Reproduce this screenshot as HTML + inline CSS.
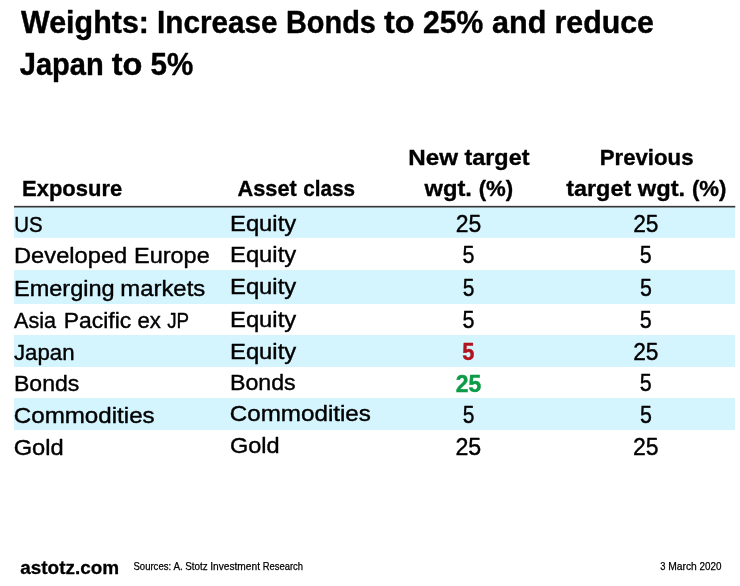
<!DOCTYPE html>
<html lang="en">
<head>
<meta charset="utf-8">
<title>Weights: Increase Bonds to 25% and reduce Japan to 5%</title>
<style>
html,body{margin:0;padding:0;background:#fff}
svg{display:block}
</style>
</head>
<body>
<svg width="740" height="586" viewBox="0 0 740 586" font-family="'Liberation Sans', sans-serif">
<rect width="740" height="586" fill="#fff"/>
<rect x="14" y="207" width="721" height="30.8" fill="#D4F4FE"/>
<rect x="14" y="270" width="721" height="34.0" fill="#D4F4FE"/>
<rect x="14" y="335" width="721" height="32.0" fill="#D4F4FE"/>
<rect x="14" y="398" width="721" height="32.0" fill="#D4F4FE"/>
<rect x="14" y="205.85" width="721.3" height="1.65" fill="#363636"/>
<text y="32.70" font-size="30.71" font-weight="bold" stroke="#000" stroke-width="0.4" stroke-linejoin="round"><tspan x="21.00" textLength="127.99" lengthAdjust="spacingAndGlyphs">Weights:</tspan> <tspan x="157.01" textLength="120.52" lengthAdjust="spacingAndGlyphs">Increase</tspan> <tspan x="286.00" textLength="89.87" lengthAdjust="spacingAndGlyphs">Bonds</tspan> <tspan x="384.00" textLength="30.65" lengthAdjust="spacingAndGlyphs">to</tspan> <tspan x="423.01" textLength="60.26" lengthAdjust="spacingAndGlyphs">25%</tspan> <tspan x="491.99" textLength="54.35" lengthAdjust="spacingAndGlyphs">and</tspan> <tspan x="554.50" textLength="99.40" lengthAdjust="spacingAndGlyphs">reduce</tspan></text>
<text y="74.70" font-size="30.71" font-weight="bold" stroke="#000" stroke-width="0.4" stroke-linejoin="round"><tspan x="19.75" textLength="83.95" lengthAdjust="spacingAndGlyphs">Japan</tspan> <tspan x="111.75" textLength="30.65" lengthAdjust="spacingAndGlyphs">to</tspan> <tspan x="150.50" textLength="42.75" lengthAdjust="spacingAndGlyphs">5%</tspan></text>
<text y="195.75" font-size="22.70" font-weight="bold" stroke="#000" stroke-width="0.35" stroke-linejoin="round"><tspan x="22.01" textLength="100.18" lengthAdjust="spacingAndGlyphs">Exposure</tspan></text>
<text y="195.75" font-size="22.70" font-weight="bold" stroke="#000" stroke-width="0.35" stroke-linejoin="round"><tspan x="237.51" textLength="59.25" lengthAdjust="spacingAndGlyphs">Asset</tspan> <tspan x="303.25" textLength="51.76" lengthAdjust="spacingAndGlyphs">class</tspan></text>
<text y="164.90" font-size="22.70" font-weight="bold" stroke="#000" stroke-width="0.35" stroke-linejoin="round"><tspan x="408.26" textLength="49.70" lengthAdjust="spacingAndGlyphs">New</tspan> <tspan x="464.50" textLength="64.94" lengthAdjust="spacingAndGlyphs">target</tspan></text>
<text y="195.50" font-size="22.70" font-weight="bold" stroke="#000" stroke-width="0.35" stroke-linejoin="round"><tspan x="424.50" textLength="47.38" lengthAdjust="spacingAndGlyphs">wgt.</tspan> <tspan x="478.72" textLength="34.54" lengthAdjust="spacingAndGlyphs">(%)</tspan></text>
<text y="164.90" font-size="22.70" font-weight="bold" stroke="#000" stroke-width="0.35" stroke-linejoin="round"><tspan x="599.76" textLength="93.74" lengthAdjust="spacingAndGlyphs">Previous</tspan></text>
<text y="195.50" font-size="22.70" font-weight="bold" stroke="#000" stroke-width="0.35" stroke-linejoin="round"><tspan x="566.25" textLength="64.94" lengthAdjust="spacingAndGlyphs">target</tspan> <tspan x="637.75" textLength="47.38" lengthAdjust="spacingAndGlyphs">wgt.</tspan> <tspan x="691.97" textLength="34.54" lengthAdjust="spacingAndGlyphs">(%)</tspan></text>
<text y="231.50" font-size="22.93" stroke="#000" stroke-width="0.4" stroke-linejoin="round"><tspan x="14.19" textLength="28.39" lengthAdjust="spacingAndGlyphs">US</tspan></text>
<text y="230.50" font-size="22.93" stroke="#000" stroke-width="0.4" stroke-linejoin="round"><tspan x="230.01" textLength="66.18" lengthAdjust="spacingAndGlyphs">Equity</tspan></text>
<text y="231.50" font-size="23.19" stroke="#000" stroke-width="0.4" stroke-linejoin="round"><tspan x="455.71" textLength="25.53" lengthAdjust="spacingAndGlyphs">25</tspan></text>
<text y="231.50" font-size="23.19" stroke="#000" stroke-width="0.4" stroke-linejoin="round"><tspan x="633.21" textLength="25.27" lengthAdjust="spacingAndGlyphs">25</tspan></text>
<text y="262.90" font-size="22.93" stroke="#000" stroke-width="0.4" stroke-linejoin="round"><tspan x="14.00" textLength="113.30" lengthAdjust="spacingAndGlyphs">Developed</tspan> <tspan x="133.99" textLength="75.71" lengthAdjust="spacingAndGlyphs">Europe</tspan></text>
<text y="261.70" font-size="22.93" stroke="#000" stroke-width="0.4" stroke-linejoin="round"><tspan x="230.01" textLength="66.18" lengthAdjust="spacingAndGlyphs">Equity</tspan></text>
<text y="262.90" font-size="23.19" stroke="#000" stroke-width="0.4" stroke-linejoin="round"><tspan x="462.42" textLength="11.95" lengthAdjust="spacingAndGlyphs">5</tspan></text>
<text y="262.90" font-size="23.19" stroke="#000" stroke-width="0.4" stroke-linejoin="round"><tspan x="639.67" textLength="11.95" lengthAdjust="spacingAndGlyphs">5</tspan></text>
<text y="295.80" font-size="22.93" stroke="#000" stroke-width="0.4" stroke-linejoin="round"><tspan x="14.00" textLength="100.68" lengthAdjust="spacingAndGlyphs">Emerging</tspan> <tspan x="120.26" textLength="84.98" lengthAdjust="spacingAndGlyphs">markets</tspan></text>
<text y="294.25" font-size="22.93" stroke="#000" stroke-width="0.4" stroke-linejoin="round"><tspan x="230.01" textLength="66.18" lengthAdjust="spacingAndGlyphs">Equity</tspan></text>
<text y="295.80" font-size="23.19" stroke="#000" stroke-width="0.4" stroke-linejoin="round"><tspan x="462.71" textLength="11.65" lengthAdjust="spacingAndGlyphs">5</tspan></text>
<text y="295.80" font-size="23.19" stroke="#000" stroke-width="0.4" stroke-linejoin="round"><tspan x="639.96" textLength="11.90" lengthAdjust="spacingAndGlyphs">5</tspan></text>
<text y="328.30" font-size="22.93" stroke="#000" stroke-width="0.4" stroke-linejoin="round"><tspan x="14.00" textLength="42.03" lengthAdjust="spacingAndGlyphs">Asia</tspan> <tspan x="63.74" textLength="67.47" lengthAdjust="spacingAndGlyphs">Pacific</tspan> <tspan x="137.49" textLength="23.44" lengthAdjust="spacingAndGlyphs">ex</tspan> <tspan x="167.24" textLength="21.90" lengthAdjust="spacingAndGlyphs">JP</tspan></text>
<text y="327.00" font-size="22.93" stroke="#000" stroke-width="0.4" stroke-linejoin="round"><tspan x="230.01" textLength="66.18" lengthAdjust="spacingAndGlyphs">Equity</tspan></text>
<text y="328.30" font-size="23.19" stroke="#000" stroke-width="0.4" stroke-linejoin="round"><tspan x="462.42" textLength="11.95" lengthAdjust="spacingAndGlyphs">5</tspan></text>
<text y="328.30" font-size="23.19" stroke="#000" stroke-width="0.4" stroke-linejoin="round"><tspan x="639.67" textLength="11.95" lengthAdjust="spacingAndGlyphs">5</tspan></text>
<text y="359.60" font-size="22.93" stroke="#000" stroke-width="0.4" stroke-linejoin="round"><tspan x="14.00" textLength="60.51" lengthAdjust="spacingAndGlyphs">Japan</tspan></text>
<text y="358.75" font-size="22.93" stroke="#000" stroke-width="0.4" stroke-linejoin="round"><tspan x="230.01" textLength="66.18" lengthAdjust="spacingAndGlyphs">Equity</tspan></text>
<text y="360.30" font-size="23.19" font-weight="bold" fill="#B2121F" stroke="#B2121F" stroke-width="0.4" stroke-linejoin="round"><tspan x="462.23" textLength="12.13" lengthAdjust="spacingAndGlyphs">5</tspan></text>
<text y="359.60" font-size="23.19" stroke="#000" stroke-width="0.4" stroke-linejoin="round"><tspan x="633.21" textLength="25.27" lengthAdjust="spacingAndGlyphs">25</tspan></text>
<text y="391.10" font-size="22.93" stroke="#000" stroke-width="0.4" stroke-linejoin="round"><tspan x="13.99" textLength="65.41" lengthAdjust="spacingAndGlyphs">Bonds</tspan></text>
<text y="390.00" font-size="22.93" stroke="#000" stroke-width="0.4" stroke-linejoin="round"><tspan x="229.99" textLength="65.67" lengthAdjust="spacingAndGlyphs">Bonds</tspan></text>
<text y="391.90" font-size="23.19" font-weight="bold" fill="#0C9B46" stroke="#0C9B46" stroke-width="0.4" stroke-linejoin="round"><tspan x="455.74" textLength="25.50" lengthAdjust="spacingAndGlyphs">25</tspan></text>
<text y="391.10" font-size="23.19" stroke="#000" stroke-width="0.4" stroke-linejoin="round"><tspan x="639.67" textLength="11.95" lengthAdjust="spacingAndGlyphs">5</tspan></text>
<text y="422.60" font-size="22.93" stroke="#000" stroke-width="0.4" stroke-linejoin="round"><tspan x="13.77" textLength="140.90" lengthAdjust="spacingAndGlyphs">Commodities</tspan></text>
<text y="421.00" font-size="22.93" stroke="#000" stroke-width="0.4" stroke-linejoin="round"><tspan x="229.77" textLength="141.16" lengthAdjust="spacingAndGlyphs">Commodities</tspan></text>
<text y="422.60" font-size="23.19" stroke="#000" stroke-width="0.4" stroke-linejoin="round"><tspan x="462.71" textLength="11.65" lengthAdjust="spacingAndGlyphs">5</tspan></text>
<text y="422.60" font-size="23.19" stroke="#000" stroke-width="0.4" stroke-linejoin="round"><tspan x="639.96" textLength="11.90" lengthAdjust="spacingAndGlyphs">5</tspan></text>
<text y="454.50" font-size="22.93" stroke="#000" stroke-width="0.4" stroke-linejoin="round"><tspan x="13.73" textLength="49.97" lengthAdjust="spacingAndGlyphs">Gold</tspan></text>
<text y="453.25" font-size="22.93" stroke="#000" stroke-width="0.4" stroke-linejoin="round"><tspan x="229.98" textLength="49.72" lengthAdjust="spacingAndGlyphs">Gold</tspan></text>
<text y="454.50" font-size="23.19" stroke="#000" stroke-width="0.4" stroke-linejoin="round"><tspan x="455.46" textLength="25.79" lengthAdjust="spacingAndGlyphs">25</tspan></text>
<text y="454.50" font-size="23.19" stroke="#000" stroke-width="0.4" stroke-linejoin="round"><tspan x="632.96" textLength="25.54" lengthAdjust="spacingAndGlyphs">25</tspan></text>
<text y="573.80" font-size="19.10" font-weight="bold" stroke="#000" stroke-width="0.3" stroke-linejoin="round"><tspan x="20.26" textLength="98.90" lengthAdjust="spacingAndGlyphs">astotz.com</tspan></text>
<text y="570.20" font-size="10.67" stroke="#000" stroke-width="0.25" stroke-linejoin="round"><tspan x="133.50" textLength="37.59" lengthAdjust="spacingAndGlyphs">Sources:</tspan> <tspan x="173.50" textLength="9.30" lengthAdjust="spacingAndGlyphs">A.</tspan> <tspan x="185.25" textLength="22.40" lengthAdjust="spacingAndGlyphs">Stotz</tspan> <tspan x="210.26" textLength="49.71" lengthAdjust="spacingAndGlyphs">Investment</tspan> <tspan x="262.75" textLength="40.17" lengthAdjust="spacingAndGlyphs">Research</tspan></text>
<text y="570.20" font-size="10.67" stroke="#000" stroke-width="0.25" stroke-linejoin="round"><tspan x="660.23" textLength="5.19" lengthAdjust="spacingAndGlyphs">3</tspan> <tspan x="668.24" textLength="28.59" lengthAdjust="spacingAndGlyphs">March</tspan> <tspan x="699.50" textLength="21.89" lengthAdjust="spacingAndGlyphs">2020</tspan></text>
</svg>
</body>
</html>
